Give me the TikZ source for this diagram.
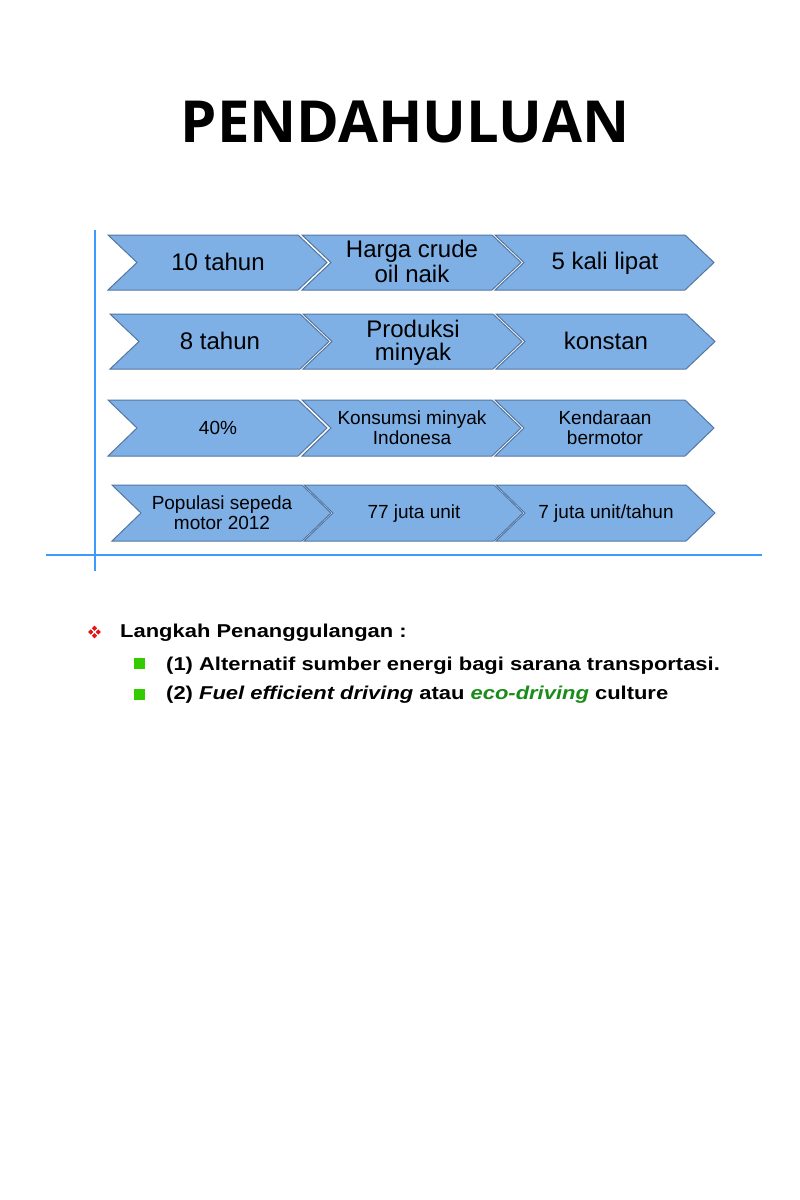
\documentclass[tikz,border=0pt]{standalone}
\usepackage{fontspec}
\setmainfont{Liberation Sans}
\newfontfamily\titlefont{Open Sans}
\newfontfamily\listfont[FakeStretch=1.18]{Liberation Sans}
\definecolor{chevfill}{RGB}{126,176,230}
\definecolor{chevedge}{RGB}{84,118,160}
\definecolor{axisblue}{RGB}{61,155,255}
\definecolor{bulletred}{RGB}{228,20,20}
\definecolor{bulletgreen}{RGB}{51,204,0}
\definecolor{ecogreen}{RGB}{25,140,25}
\newcommand{\bst}{\rule[-4pt]{0pt}{23pt}}
\newcommand{\sst}{\rule[-2pt]{0pt}{17.5pt}}
\newcommand{\chevron}[5]{% x, ytop, ybot, name, text
  \path[chevshape] (#1,#2) -- ++(190,0) -- (#1+219,{(#2+#3)/2}) -- (#1+190,#3) -- (#1,#3) -- (#1+29,{(#2+#3)/2}) -- cycle;
  \node[chevtext] (#4) at (#1+110,{(#2+#3)/2}) {#5};
}
\begin{document}
\begin{tikzpicture}[x=1pt,y=-1pt,
  chevshape/.style={fill=chevfill,draw=chevedge,line width=1pt,line join=miter},
  chevtext/.style={align=center,text=black,inner sep=0pt},
  bigtxt/.style={font=\fontsize{24}{23}\selectfont},
  smalltxt/.style={font=\fontsize{19}{20}\selectfont},
  axis/.style={draw=axisblue,line width=2pt},
  listtxt/.style={anchor=base west,inner sep=0pt,font=\listfont\bfseries\fontsize{18.6}{20}\selectfont}]
\useasboundingbox (0,0) rectangle (800,1200);
\fill[white] (0,0) rectangle (800,1200);
\node[font=\titlefont\bfseries\fontsize{58}{60}\selectfont] (title) at (405,122) {PENDAHULUAN};
% axes
\coordinate (vtop) at (95,230);
\coordinate (vbot) at (95,571);
\coordinate (hl) at (46,555);
\coordinate (hr) at (762,555);
\draw[axis] (vtop) -- (vbot);
\draw[axis] (hl) -- (hr);
% rows
\begin{scope}[every node/.append style={bigtxt}]
\chevron{108}{235}{290}{r1a}{\bst 10 tahun}
\chevron{302}{235}{290}{r1b}{\bst Harga crude\\\bst oil naik}
\chevron{495}{235}{290}{r1c}{\bst 5 kali lipat}
\chevron{110}{314}{369}{r2a}{\bst 8 tahun}
\chevron{303}{314}{369}{r2b}{\bst Produksi\\\bst minyak}
\chevron{496}{314}{369}{r2c}{\bst konstan}
\end{scope}
\begin{scope}[every node/.append style={smalltxt}]
\chevron{108}{400}{456}{r3a}{\sst 40\%}
\chevron{302}{400}{456}{r3b}{\sst Konsumsi minyak\\\sst Indonesa}
\chevron{495}{400}{456}{r3c}{\sst Kendaraan\\\sst bermotor}
\chevron{112}{485}{541}{r4a}{\sst Populasi sepeda\\\sst motor 2012}
\chevron{304}{485}{541}{r4b}{\sst 77 juta unit}
\chevron{496}{485}{541}{r4c}{\sst 7 juta unit/tahun}
\end{scope}
% bullets
\foreach \dx/\dy in {0/-3.8,0/3.8,-3.8/0,3.8/0}{
  \fill[bulletred] (94.5+\dx,632+\dy) +(0,-2.6) -- +(2.6,0) -- +(0,2.6) -- +(-2.6,0) -- cycle;
}
\fill[bulletgreen] (134,658) rectangle (145,669);
\fill[bulletgreen] (134,689) rectangle (145,700);
\node[listtxt] (l1) at (120,637) {Langkah Penanggulangan :};
\node[listtxt] (l2) at (166,670) {(1) Alternatif sumber energi bagi sarana transportasi.};
\node[listtxt] (l3) at (166,699) {(2) \textit{Fuel efficient driving} atau \textcolor{ecogreen}{\textit{eco-driving}} culture};
\end{tikzpicture}
\end{document}
